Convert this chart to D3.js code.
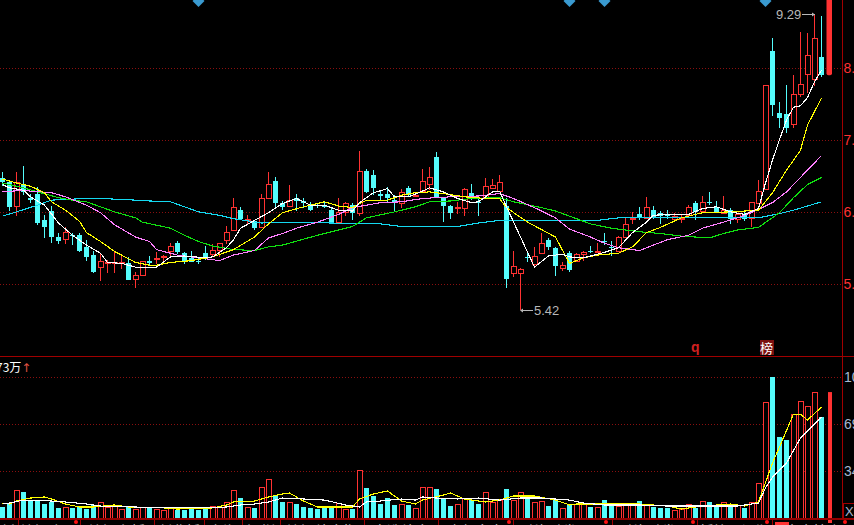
<!DOCTYPE html>
<html>
<head>
<meta charset="utf-8">
<script src="https://cdn.jsdelivr.net/npm/d3@7"></script>
<style>
  html, body { margin: 0; padding: 0; background: #000; overflow: hidden; }
  svg { display: block; }
  text { font-family: "Liberation Sans", Arial, sans-serif; }
</style>
</head>
<body>
<svg id="chart" width="854" height="525"></svg>
<script>
// Daily candles, index 0 is the left edge of the window
var opens = [6.89,6.84,6.55,6.81,6.65,6.70,6.38,6.49,6.19,6.17,6.21,6.21,6.08,5.99,5.86,5.91,5.91,5.92,5.90,5.73,
  5.78,5.93,5.96,5.97,6.03,6.12,6.01,5.96,5.93,6.01,6.00,6.05,6.16,6.27,6.50,6.40,6.37,6.30,6.65,6.85,
  6.59,6.55,6.65,6.61,6.56,6.56,6.56,6.50,6.36,6.48,6.56,6.47,6.98,6.93,6.70,6.70,6.62,6.58,6.77,6.68,
  6.73,6.82,7.16,6.65,6.55,6.52,6.53,6.71,6.60,6.64,6.77,6.73,6.55,5.80,5.80,5.97,5.89,6.01,6.16,6.07,
  5.85,6.01,5.93,6.00,6.04,6.04,6.14,6.08,6.03,6.19,6.41,6.46,6.41,6.50,6.47,6.44,6.40,6.41,6.44,6.58,
  6.49,6.60,6.54,6.47,6.50,6.40,6.45,6.41,6.58,6.76,8.68,7.76,7.74,7.60,8.03,8.33,8.25,8.59,8.31];
var closes = [6.84,6.54,6.84,6.72,6.62,6.35,6.30,6.19,6.15,6.25,6.20,6.04,5.97,5.81,5.93,5.92,5.91,5.92,5.72,5.78,
  5.93,5.90,5.96,5.98,6.09,6.02,5.93,5.92,5.92,5.96,6.05,6.12,6.25,6.54,6.40,6.40,6.29,6.65,6.82,6.58,
  6.54,6.62,6.61,6.59,6.50,6.55,6.54,6.36,6.48,6.59,6.47,6.98,6.72,6.77,6.67,6.64,6.59,6.72,6.68,6.68,
  6.85,6.90,6.65,6.55,6.47,6.54,6.76,6.65,6.59,6.79,6.81,6.84,5.73,5.87,5.84,5.96,5.98,6.12,6.08,5.87,
  5.88,5.83,6.00,6.02,6.03,6.04,6.13,6.07,6.19,6.34,6.41,6.41,6.54,6.41,6.43,6.43,6.43,6.41,6.54,6.48,
  6.60,6.58,6.48,6.50,6.40,6.46,6.40,6.60,6.73,8.16,7.87,7.69,7.55,8.03,8.18,8.62,8.89,8.31,9.62];
var highs = [6.97,6.87,6.97,7.05,6.70,6.78,6.44,6.55,6.24,6.30,6.24,6.24,6.16,6.04,6.01,5.94,6.02,5.98,5.97,5.81,
  5.93,5.98,6.02,5.99,6.12,6.15,6.02,6.04,5.96,6.09,6.11,6.12,6.31,6.65,6.54,6.44,6.38,6.70,6.97,6.90,
  6.61,6.81,6.70,6.65,6.60,6.59,6.60,6.53,6.65,6.60,6.58,7.24,7.00,6.99,6.74,6.78,6.68,6.76,6.79,6.72,
  7.00,7.03,7.22,6.66,6.56,6.60,6.77,6.82,6.65,6.89,6.88,6.93,6.65,6.03,5.85,6.04,6.08,6.24,6.18,6.08,
  5.91,6.04,6.01,6.04,6.09,6.12,6.24,6.14,6.20,6.41,6.48,6.54,6.66,6.55,6.49,6.50,6.47,6.45,6.56,6.61,
  6.67,6.72,6.61,6.67,6.53,6.46,6.50,6.60,6.87,8.17,8.89,7.91,8.17,8.31,8.99,8.97,9.29,9.26,9.62];
var lows = [6.79,6.49,6.43,6.68,6.59,6.33,6.18,6.12,6.11,6.11,6.10,6.02,5.93,5.80,5.71,5.80,5.80,5.84,5.72,5.64,
  5.77,5.88,5.89,5.90,5.98,6.00,5.89,5.92,5.89,5.94,5.97,5.97,6.11,6.27,6.38,6.33,6.27,6.30,6.65,6.53,
  6.50,6.55,6.49,6.53,6.49,6.52,6.53,6.35,6.36,6.43,6.38,6.43,6.71,6.68,6.61,6.60,6.49,6.52,6.67,6.66,
  6.72,6.74,6.64,6.36,6.40,6.45,6.43,6.62,6.43,6.64,6.77,6.72,5.64,5.76,5.42,5.91,5.87,6.01,6.05,5.77,
  5.82,5.81,5.91,5.93,6.01,6.01,6.10,5.98,6.02,6.19,6.34,6.38,6.40,6.40,6.34,6.40,6.36,6.35,6.41,6.38,
  6.48,6.56,6.47,6.47,6.34,6.35,6.37,6.30,6.58,6.74,7.71,7.55,7.48,7.55,7.98,8.05,8.15,8.28,8.31];
var volumes = [8.1,10.3,20.6,19.1,12.5,13.2,10.3,11.8,7.4,8.1,7.4,8.1,6.6,9.6,11.8,8.1,8.8,6.6,8.1,6.6,
  8.1,7.4,6.6,5.9,8.1,5.9,5.9,6.6,5.9,8.1,8.8,8.1,11.8,20.6,14.7,8.1,7.4,22.8,28.7,16.9,
  11.8,11.8,10.3,8.1,7.4,6.6,7.4,8.1,11.0,6.6,6.6,35.3,22.1,16.2,10.3,14.7,9.6,10.3,9.6,7.4,
  22.8,22.8,21.3,14.7,8.8,10.3,14.7,13.2,10.3,19.1,11.8,13.2,21.3,13.2,19.1,15.5,11.8,12.5,8.8,13.2,
  7.4,9.6,10.3,11.0,8.1,8.1,13.2,8.8,8.8,11.0,11.0,12.5,9.6,8.1,7.4,7.4,5.9,6.6,10.3,7.4,
  12.5,11.8,8.8,11.8,8.8,9.6,7.4,11.8,25.8,85.4,103.8,59.6,57.4,76.5,86.1,82.4,92.7,74.3,92.7];

// Moving averages: the day index, then the value on that day
var ma5Days = [0,1,3,4,6,8,10,12,14,15,17,19,22,24,26,29,30,32,33,34,36,38,40,42,44,46,48,50,51,53,55,56,58,60,61,63,65,67,68,70,71,72,74,76,78,80,81,83,86,88,90,92,93,95,98,100,102,104,106,108,109,110,111,112,113,114,115,116,117];
var ma5 = [6.81,6.77,6.74,6.66,6.56,6.35,6.21,6.10,6.01,5.91,5.90,5.86,5.86,5.97,5.98,5.96,5.97,6.07,6.16,6.29,6.38,6.47,6.58,6.64,6.56,6.56,6.50,6.49,6.59,6.71,6.76,6.66,6.66,6.73,6.77,6.72,6.64,6.59,6.60,6.72,6.73,6.54,6.19,5.86,5.98,6.00,5.97,5.96,6.02,6.07,6.24,6.36,6.44,6.45,6.45,6.52,6.54,6.48,6.45,6.52,6.83,7.12,7.39,7.66,7.84,7.86,7.98,8.21,8.39];
var ma10Days = [0,2,4,6,7,9,11,12,14,16,19,21,22,24,27,30,33,36,38,40,43,46,48,50,52,55,57,59,61,63,66,69,71,72,75,79,81,83,85,88,90,92,94,97,100,104,108,110,112,114,115,117];
var ma10 = [6.88,6.83,6.79,6.71,6.60,6.50,6.37,6.24,6.14,6.03,5.91,5.88,5.88,5.91,5.93,5.97,6.05,6.19,6.34,6.47,6.54,6.60,6.55,6.53,6.62,6.62,6.68,6.71,6.72,6.70,6.66,6.64,6.64,6.53,6.36,6.19,5.90,5.96,5.99,6.01,6.08,6.24,6.30,6.41,6.47,6.48,6.50,6.71,6.99,7.25,7.59,7.97];
var ma20Days = [0,3,4,7,9,12,14,16,19,21,22,25,28,31,33,36,38,40,42,45,48,50,54,57,60,64,68,71,73,76,79,81,84,86,88,91,93,95,98,100,103,105,107,110,112,114,117];
var ma20 = [6.72,6.74,6.73,6.71,6.66,6.56,6.47,6.33,6.19,6.14,6.05,5.99,5.96,5.93,5.99,6.04,6.18,6.23,6.29,6.36,6.45,6.53,6.59,6.60,6.64,6.66,6.67,6.70,6.64,6.53,6.41,6.28,6.19,6.12,6.07,6.04,6.10,6.16,6.21,6.29,6.36,6.41,6.47,6.59,6.72,6.90,7.18];
var ma30Days = [0,3,5,8,10,12,14,16,19,20,24,26,28,30,33,36,38,40,45,50,52,56,59,61,64,67,71,73,77,79,81,84,87,91,94,97,101,103,105,108,111,113,115,117];
var ma30 = [6.83,6.77,6.72,6.65,6.62,6.60,6.54,6.48,6.41,6.36,6.29,6.21,6.14,6.09,6.05,6.04,6.08,6.10,6.21,6.31,6.41,6.48,6.54,6.60,6.61,6.64,6.65,6.60,6.53,6.49,6.43,6.34,6.29,6.25,6.23,6.20,6.18,6.23,6.27,6.30,6.47,6.65,6.81,6.90];
var ma60Days = [0,2,5,7,12,14,19,21,24,26,28,31,33,37,40,47,54,57,65,68,71,77,81,85,88,96,108,111,113,117];
var ma60 = [6.43,6.48,6.56,6.62,6.64,6.64,6.62,6.61,6.60,6.54,6.48,6.44,6.40,6.35,6.36,6.35,6.34,6.31,6.31,6.35,6.38,6.38,6.38,6.38,6.41,6.41,6.41,6.46,6.50,6.60];

var volMa5Days = [0,1,3,7,9,12,14,19,23,28,32,34,36,38,40,43,46,49,51,52,54,57,59,60,62,65,68,71,74,77,81,83,86,91,95,105,108,109,110,112,114,117];
var volMa5 = [11.0,11.0,13.2,12.5,11.8,10.3,8.8,8.1,7.4,7.4,8.1,9.6,10.3,11.8,14.7,14.0,13.2,9.6,8.1,11.8,12.5,14.0,13.2,15.5,14.7,14.0,14.7,13.2,14.7,14.7,13.2,11.0,9.6,9.6,8.8,8.8,11.0,22.1,30.2,40.5,58.9,74.3];
var volMa10Days = [0,1,2,4,6,7,9,11,13,16,18,21,23,25,30,32,33,36,38,40,41,43,45,48,50,51,53,55,57,59,60,63,64,66,69,71,73,76,79,81,82,86,91,95,97,100,104,106,108,110,111,113,114,115,117];
var volMa10 = [11.0,10.3,12.5,14.7,15.5,14.0,10.3,8.1,8.1,9.6,8.1,7.4,7.4,6.6,7.4,9.6,11.8,12.5,15.5,17.7,18.4,12.5,8.1,8.1,8.1,14.0,17.7,19.9,12.5,10.3,13.2,16.9,18.4,14.0,11.8,13.2,16.2,16.2,13.2,9.6,10.3,10.3,10.3,8.8,6.6,8.8,10.3,8.8,11.8,40.5,52.3,76.5,76.5,72.1,81.7];

var priceTicks = [9.62, 8.42, 7.38, 6.48, 5.68];
var volumeTicks = [34.6, 69.2, 103.8];

// Bottom tab strip
var tabEdges = [18, 80, 154, 204, 242, 280, 364, 438, 513, 612, 697, 772];
var tabNames = ["沪深个股", "沪深主板", "创业板", "上海", "深圳", "沪深综合指", "自选综合", "全部富豪", "融资融券股票", "融资融券股", "板块回调期", "资金抄底"];
var tabDots = [76, 509, 606, 693, 767, 845];
var signalDays = [28, 81, 86, 109];

var config = {
    red: "#ff3232", cyan: "#54fcfc", grid: "#8a0f0f", axis: "#8c0000",
    priceTop: 14, priceBottom: 310, volTop: 377, volBottom: 518, right: 842.5
};

var svg = d3.select("#chart");
var n = closes.length;

var x = d3.scaleLinear().domain([0, n - 1]).range([2.5, 2.5 + 7 * (n - 1)]);
// the price pane is logarithmic
var y = d3.scaleLog().domain([5.42, 9.29]).range([config.priceBottom, config.priceTop]);
var yVol = d3.scaleLinear().domain([0, 103.8]).range([config.volBottom, config.volTop]);

// Dotted grid
svg.append("g").selectAll("line").data(priceTicks.slice(1)).join("line")
    .attr("x1", 0).attr("x2", config.right)
    .attr("y1", function(d) { return Math.round(y(d)) + 0.5; })
    .attr("y2", function(d) { return Math.round(y(d)) + 0.5; })
    .attr("stroke", config.grid).attr("stroke-dasharray", "1,2");

svg.append("g").selectAll("line").data(volumeTicks).join("line")
    .attr("x1", 0).attr("x2", config.right)
    .attr("y1", function(d) { return Math.round(yVol(d)) + 0.5; })
    .attr("y2", function(d) { return Math.round(yVol(d)) + 0.5; })
    .attr("stroke", config.grid).attr("stroke-dasharray", "1,2");

// Signal diamonds on the top edge
svg.append("g").selectAll("path").data(signalDays).join("path")
    .attr("transform", function(d) { return "translate(" + x(d) + ",1)"; })
    .attr("d", "M0,-6L6,0L0,6L-6,0Z")
    .attr("fill", "#3a9ad0");

// Candles
var candles = svg.append("g").attr("shape-rendering", "crispEdges");
var days = d3.range(n - 1);

candles.selectAll("line").data(days).join("line")
    .attr("x1", x).attr("x2", x)
    .attr("y1", function(i) { return y(highs[i]); })
    .attr("y2", function(i) { return y(lows[i]); })
    .attr("stroke", function(i) { return closes[i] >= opens[i] ? config.red : config.cyan; });

candles.selectAll("rect").data(days).join("rect")
    .attr("x", function(i) { return x(i) - 2.5; })
    .attr("width", 5)
    .attr("y", function(i) { return Math.round(y(Math.max(opens[i], closes[i]))) + (closes[i] >= opens[i] ? 0.5 : 0); })
    .attr("height", function(i) {
        var h = Math.round(y(Math.min(opens[i], closes[i]))) - Math.round(y(Math.max(opens[i], closes[i])));
        return Math.max(h, 1);
    })
    .attr("fill", function(i) { return closes[i] >= opens[i] ? "#000" : config.cyan; })
    .attr("stroke", function(i) { return closes[i] >= opens[i] ? config.red : "none"; });

// Today is drawn solid and wider, in both panes
var last = n - 1;
svg.append("rect")
    .attr("x", 826.5).attr("width", 5.5)
    .attr("y", y(highs[last])).attr("height", y(lows[last]) - y(highs[last]))
    .attr("rx", 2)
    .attr("fill", config.red);

// Moving averages
function drawLine(daysArr, vals, scale, color) {
    var line = d3.line()
        .x(function(d) { return x(d); })
        .y(function(d, i) { return scale(vals[i]); });
    svg.append("path")
        .attr("d", line(daysArr))
        .attr("fill", "none")
        .attr("stroke", color)
        .attr("stroke-width", 1.1)
        .attr("shape-rendering", "crispEdges");
}

drawLine(ma60Days, ma60, y, "#14d8f0");
drawLine(ma30Days, ma30, y, "#10e010");
drawLine(ma20Days, ma20, y, "#ff80ff");
drawLine(ma10Days, ma10, y, "#ffff00");
drawLine(ma5Days, ma5, y, "#ffffff");

// Volume bars
var bars = svg.append("g").attr("shape-rendering", "crispEdges");
bars.selectAll("rect").data(days).join("rect")
    .attr("x", function(i) { return x(i) - 2.5; })
    .attr("width", 5)
    .attr("y", function(i) { return Math.round(yVol(volumes[i])) + (closes[i] >= opens[i] ? 0.5 : 0); })
    .attr("height", function(i) { return config.volBottom - Math.round(yVol(volumes[i])); })
    .attr("fill", function(i) { return closes[i] >= opens[i] ? "#000" : config.cyan; })
    .attr("stroke", function(i) { return closes[i] >= opens[i] ? config.red : "none"; });

svg.append("rect")
    .attr("x", 828).attr("width", 4)
    .attr("y", yVol(volumes[last])).attr("height", 523 - yVol(volumes[last]))
    .attr("fill", config.red);

drawLine(volMa10Days, volMa10, yVol, "#ffff00");
drawLine(volMa5Days, volMa5, yVol, "#ffffff");

// Frame
svg.append("line").attr("x1", 0).attr("x2", 854).attr("y1", 356.5).attr("y2", 356.5)
    .attr("stroke", "#a00000");
svg.append("line").attr("x1", config.right).attr("x2", config.right).attr("y1", 0).attr("y2", 520)
    .attr("stroke", "#a00000");
svg.append("rect").attr("x", 0).attr("y", 518).attr("width", 854).attr("height", 2)
    .attr("fill", "#900000");

// Axes, their labels run off the window the same way the original does
var priceAxis = d3.axisRight(y).tickValues(priceTicks).tickSize(0).tickPadding(0)
    .tickFormat(d3.format(".2f"));
svg.append("g").attr("transform", "translate(843.5,0)").call(priceAxis)
    .call(function(g) { g.select(".domain").remove(); })
    .selectAll("text")
    .attr("fill", config.red)
    .style("font-size", "14px");

var volAxis = d3.axisRight(yVol).tickValues(volumeTicks).tickSize(0).tickPadding(0)
    .tickFormat(d3.format(".1f"));
svg.append("g").attr("transform", "translate(844,0)").call(volAxis)
    .call(function(g) { g.select(".domain").remove(); })
    .selectAll("text")
    .attr("fill", "#a8b8d0")
    .style("font-size", "14px");

// X1 box
svg.append("rect").attr("x", 843.5).attr("y", 503.5).attr("width", 12).attr("height", 15)
    .attr("fill", "#000").attr("stroke", "#a00000");
svg.append("text").attr("x", 845).attr("y", 516).attr("fill", "#a8b8d0")
    .style("font-size", "13px").text("X1");

// High and low flags
svg.append("text").attr("x", 776).attr("y", 18.5).attr("fill", "#b8b8b8")
    .style("font-size", "13px").text("9.29");
svg.append("line").attr("x1", 802).attr("x2", 815).attr("y1", 14.5).attr("y2", 14.5).attr("stroke", "#b8b8b8");
svg.append("path").attr("d", "M815,14.5l-3,-2v4z").attr("fill", "#b8b8b8");

svg.append("text").attr("x", 534).attr("y", 314.5).attr("fill", "#b8b8b8")
    .style("font-size", "13px").text("5.42");
svg.append("line").attr("x1", 521).attr("x2", 533).attr("y1", 310.5).attr("y2", 310.5).attr("stroke", "#b8b8b8");
svg.append("path").attr("d", "M520,310.5l3,-2v4z").attr("fill", "#b8b8b8");

// Volume pane title
var volTitle = svg.append("text").attr("x", -4).attr("y", 372).attr("fill", "#fff")
    .style("font-family", "'Noto Sans CJK SC'").style("font-size", "12px");
volTitle.append("tspan").text("73万");
volTitle.append("tspan").attr("fill", "#e05040").style("font-family", "'DejaVu Sans'").text("↑");

// Markers above the divider
svg.append("text").attr("x", 691).attr("y", 352).attr("fill", "#d02020")
    .style("font-size", "14px").style("font-weight", "bold").text("q");
svg.append("rect").attr("x", 760).attr("y", 340).attr("width", 14).attr("height", 15).attr("fill", "#7a1010");
svg.append("text").attr("x", 760).attr("y", 353).attr("fill", "#fff")
    .style("font-family", "'Noto Sans CJK SC'").style("font-size", "13px").text("榜");

// Tab strip, only the top of the labels is on screen
var tabs = svg.append("g");
tabs.selectAll("line").data(tabEdges).join("line")
    .attr("x1", function(d) { return d + 0.5; }).attr("x2", function(d) { return d + 0.5; })
    .attr("y1", 520).attr("y2", 525).attr("stroke", "#a00000");
tabs.selectAll("text").data(tabNames).join("text")
    .attr("x", function(d, i) { return (tabEdges[i] + (tabEdges[i + 1] || 854)) / 2; })
    .attr("y", 536)
    .attr("text-anchor", "middle")
    .attr("fill", "#c4c4c4")
    .style("font-family", "'Noto Sans CJK SC'")
    .style("font-size", "14px")
    .text(function(d) { return d; });
tabs.append("text").attr("x", 8).attr("y", 536).attr("text-anchor", "middle").attr("fill", "#c4c4c4")
    .style("font-family", "'Noto Sans CJK SC'").style("font-size", "14px").text("新");
tabs.selectAll("circle").data(tabDots).join("circle")
    .attr("cx", function(d) { return d; }).attr("cy", 522).attr("r", 2).attr("fill", "#ff1010");
tabs.append("rect").attr("x", 775).attr("y", 522).attr("width", 14).attr("height", 3).attr("fill", config.red);
</script>
</body>
</html>
